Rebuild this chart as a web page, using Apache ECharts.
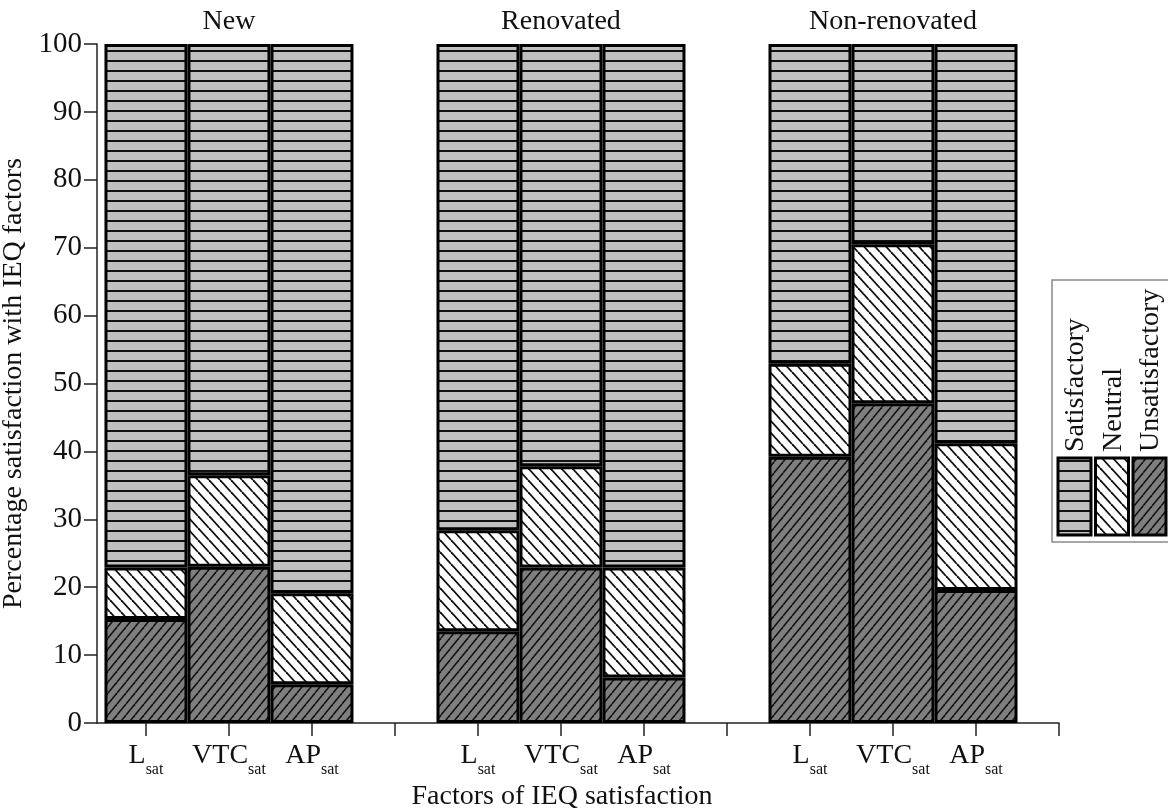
<!DOCTYPE html>
<html>
<head>
<meta charset="utf-8">
<script src="https://cdn.jsdelivr.net/npm/echarts@6/dist/echarts.min.js"></script>
<style>
  html, body { margin: 0; padding: 0; background: #ffffff; }
  #chart { width: 1168px; height: 811px; }
</style>
</head>
<body>
<div id="chart"></div>
<script>
// Building groups and the IEQ factors rated in each of them
const groups = ['New', 'Renovated', 'Non-renovated'];
const factors = ['L', 'VTC', 'AP'];

// Percentages per group, in factor order [L, VTC, AP]
const unsatisfactory = [[15.3, 23.0, 5.7], [13.5, 22.9, 6.7], [39.2, 47.1, 19.6]];
const neutral        = [[7.6, 13.5, 13.4], [14.9, 14.9, 16.2], [13.7, 23.4, 21.6]];
const satisfactory   = [[77.1, 63.5, 80.9], [71.6, 62.2, 77.1], [47.1, 29.5, 58.8]];

// Stacking order, bottom to top, and the legend order
const stackOrder = ['Unsatisfactory', 'Neutral', 'Satisfactory'];
const legendOrder = ['Satisfactory', 'Neutral', 'Unsatisfactory'];
const valuesByLevel = { Unsatisfactory: unsatisfactory, Neutral: neutral, Satisfactory: satisfactory };

// Y scale
const yMin = 0, yMax = 100, yStep = 10;

const FONT = "'Liberation Serif', 'DejaVu Serif', serif";
const INK = '#111111';

// Each group takes factors.length slots plus one empty slot after it
const slotsPerGroup = factors.length + 1;
const slotOf = (g, f) => g * slotsPerGroup + f + 1;
const barSlots = [];
groups.forEach((_, g) => factors.forEach((_, f) => barSlots.push(slotOf(g, f))));
const tickSlots = [];
for (let s = 1; s <= groups.length * slotsPerGroup; s++) tickSlots.push(s);
const groupCentres = groups.map((_, g) => slotOf(g, (factors.length - 1) / 2));
const xMax = groups.length * slotsPerGroup;
const xMin = 0.41;

// Hatched fills
function makePattern(w, h, bg, paint) {
  const c = document.createElement('canvas');
  c.width = w; c.height = h;
  const ctx = c.getContext('2d');
  ctx.fillStyle = bg;
  ctx.fillRect(0, 0, w, h);
  ctx.strokeStyle = '#111';
  ctx.fillStyle = '#111';
  paint(ctx, w, h);
  return { image: c, repeat: 'repeat' };
}
const fills = {
  Satisfactory: makePattern(8, 10, '#c0c0c0', (ctx, w) => {
    ctx.fillRect(0, 0, w, 2);
  }),
  Neutral: makePattern(11, 12, '#ffffff', (ctx, w, h) => {
    ctx.lineWidth = 1.8;
    for (const o of [-w, 0, w]) {
      ctx.beginPath(); ctx.moveTo(o, 0); ctx.lineTo(o + w, h); ctx.stroke();
    }
  }),
  Unsatisfactory: makePattern(9, 11, '#7f7f7f', (ctx, w, h) => {
    ctx.lineWidth = 1.5;
    for (const o of [-w, 0, w]) {
      ctx.beginPath(); ctx.moveTo(o, h); ctx.lineTo(o + w, 0); ctx.stroke();
    }
  })
};

// Each datum is [percentage, slot]; the percentage comes first so it is the stacked dimension
const series = stackOrder.map(level => ({
  name: level,
  type: 'bar',
  stack: 'total',
  xAxisIndex: 0,
  barWidth: '100%',
  encode: { x: 1, y: 0 },
  itemStyle: { color: fills[level], borderColor: '#000', borderWidth: 3 },
  emphasis: { disabled: true },
  data: groups.flatMap((_, g) => factors.map((_, f) => [valuesByLevel[level][g][f], slotOf(g, f)]))
}));

// Legend drawn as a boxed column of swatches with upright labels
const legendGraphics = [{
  type: 'rect',
  shape: { x: 1052, y: 280, width: 140, height: 262 },
  style: { fill: '#fff', stroke: '#8a8a8a', lineWidth: 1.5 },
  z: 10
}];
legendOrder.forEach((level, i) => {
  const x = 1058 + i * 37.5;
  legendGraphics.push({
    type: 'rect',
    shape: { x: x, y: 458, width: 33, height: 77 },
    style: { fill: fills[level], stroke: '#000', lineWidth: 3 },
    z: 11
  });
  legendGraphics.push({
    type: 'text',
    x: x + 18,
    y: 452,
    rotation: Math.PI / 2,
    style: {
      text: level,
      font: '28px ' + FONT,
      fill: INK,
      textAlign: 'left',
      textVerticalAlign: 'middle'
    },
    z: 11
  });
});

const chart = echarts.init(document.getElementById('chart'), null, { renderer: 'canvas' });
chart.setOption({
  animation: false,
  backgroundColor: '#ffffff',
  grid: { left: 97, right: 109, top: 44, bottom: 88, containLabel: false, outerBoundsMode: 'none' },
  xAxis: [
    {
      type: 'value',
      position: 'bottom',
      min: xMin,
      max: xMax,
      splitLine: { show: false },
      axisLine: { show: true, onZero: false, lineStyle: { color: '#222', width: 1.5 } },
      axisTick: { show: true, length: 13, customValues: tickSlots, lineStyle: { color: '#222', width: 1.5 } },
      axisLabel: {
        customValues: barSlots,
        margin: 19,
        formatter: v => '{m|' + factors[(Math.round(v) - 1) % slotsPerGroup] + '}{s|sat}',
        rich: {
          m: { fontSize: 28, fontFamily: FONT, color: INK, lineHeight: 30, verticalAlign: 'top' },
          s: { fontSize: 16, fontFamily: FONT, color: INK, lineHeight: 16, padding: [20, 0, 0, 0], verticalAlign: 'top' }
        }
      },
      name: 'Factors of IEQ satisfaction',
      nameLocation: 'middle',
      nameGap: 58,
      nameTextStyle: { fontSize: 28, fontFamily: FONT, color: INK, padding: [0, 32, 0, 0] }
    },
    {
      type: 'value',
      position: 'top',
      min: xMin,
      max: xMax,
      splitLine: { show: false },
      axisLine: { show: false },
      axisTick: { show: false },
      axisLabel: {
        customValues: groupCentres,
        margin: 8,
        fontSize: 28,
        fontFamily: FONT,
        color: INK,
        formatter: v => groups[groupCentres.indexOf(v)] || ''
      }
    }
  ],
  yAxis: {
    type: 'value',
    min: yMin,
    max: yMax,
    interval: yStep,
    splitLine: { show: false },
    axisLine: { show: true, lineStyle: { color: '#222', width: 1.5 } },
    axisTick: { show: true, length: 13, lineStyle: { color: '#222', width: 1.5 } },
    axisLabel: { margin: 15, fontSize: 29, fontFamily: FONT, color: INK },
    name: 'Percentage satisfaction with IEQ factors',
    nameLocation: 'middle',
    nameGap: 60,
    nameTextStyle: { fontSize: 28, fontFamily: FONT, color: INK }
  },
  series: series,
  graphic: legendGraphics
});
</script>
</body>
</html>
